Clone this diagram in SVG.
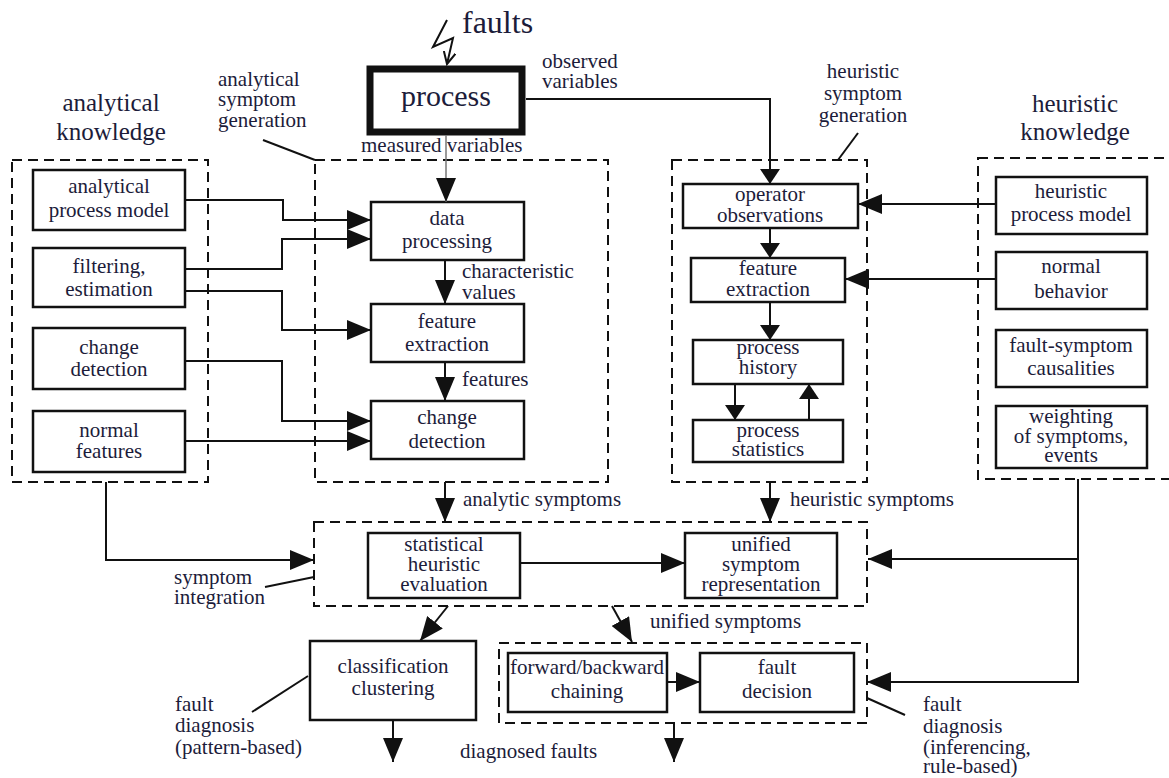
<svg xmlns="http://www.w3.org/2000/svg" width="1169" height="778" viewBox="0 0 1169 778" font-family="'Liberation Serif', 'DejaVu Serif', serif">
<defs>
<style>
text{font-family:'Liberation Serif','Tinos','DejaVu Serif','Times New Roman',serif;font-size:21px;fill:#1c1c3a}
.c{text-anchor:middle}
.t{font-size:25px}
.box{fill:#fff;stroke:#111;stroke-width:2.5}
.dash{fill:none;stroke:#111;stroke-width:2;stroke-dasharray:10 6}
.ln{fill:none;stroke:#111;stroke-width:2}
.ab{marker-end:url(#big)}
.as{marker-end:url(#small)}
</style>
<marker id="big" markerUnits="userSpaceOnUse" markerWidth="24" markerHeight="20" refX="24" refY="10" orient="auto"><path d="M0,0 L24,10 L0,20 z" fill="#111"/></marker>
<marker id="small" markerUnits="userSpaceOnUse" markerWidth="15" markerHeight="20" refX="15" refY="10" orient="auto"><path d="M0,0 L15,10 L0,20 z" fill="#111"/></marker>
<marker id="open" markerUnits="userSpaceOnUse" markerWidth="14" markerHeight="14" refX="12" refY="7" orient="auto"><path d="M0,1 L12,7 L0,13" fill="none" stroke="#111" stroke-width="2"/></marker>
</defs>

<g id="groups">
<rect class="dash" x="12" y="160" width="196" height="322"/>
<rect class="dash" x="315" y="160" width="293" height="322"/>
<rect class="dash" x="672" y="160" width="195" height="322"/>
<rect class="dash" x="978" y="158" width="200" height="321"/>
<rect class="dash" x="314" y="522" width="553" height="84"/>
<rect class="dash" x="499" y="643" width="368" height="80"/>
</g>

<g id="labels">
<text x="462" y="33" style="font-size:32px">faults</text>
<text x="542" y="68">observed</text>
<text x="542" y="88">variables</text>
<text x="361" y="152">measured variables</text>
<text x="218" y="86">analytical</text>
<text x="218" y="106">symptom</text>
<text x="218" y="127">generation</text>
<text class="c t" x="111" y="111">analytical</text>
<text class="c t" x="111" y="140">knowledge</text>
<text class="c" x="863" y="78">heuristic</text>
<text class="c" x="863" y="100">symptom</text>
<text class="c" x="863" y="122">generation</text>
<text class="c t" x="1075" y="112">heuristic</text>
<text class="c t" x="1075" y="140">knowledge</text>
<text x="462" y="278">characteristic</text>
<text x="462" y="299">values</text>
<text x="462" y="386">features</text>
<text x="463" y="506">analytic symptoms</text>
<text x="790" y="506">heuristic symptoms</text>
<text x="650" y="628">unified symptoms</text>
<text x="460" y="758">diagnosed faults</text>
<text x="174" y="584">symptom</text>
<text x="174" y="604">integration</text>
<text x="175" y="711">fault</text>
<text x="175" y="732">diagnosis</text>
<text x="175" y="754">(pattern-based)</text>
<text x="923" y="711">fault</text>
<text x="923" y="733">diagnosis</text>
<text x="923" y="754">(inferencing,</text>
<text x="923" y="773">rule-based)</text>
</g>

<g id="process">
<rect x="370" y="69" width="152" height="63" fill="#fff" stroke="#111" stroke-width="7"/>
<text class="c" x="446" y="106" style="font-size:30px">process</text>
</g>

<g id="analytical-process-model"><rect class="box" x="33" y="170" width="152" height="60"/><text class="c" x="109" y="193">analytical</text><text class="c" x="109" y="217">process model</text></g>
<g id="filtering-estimation"><rect class="box" x="33" y="248" width="152" height="59"/><text class="c" x="109" y="273">filtering,</text><text class="c" x="109" y="296">estimation</text></g>
<g id="change-detection-knowledge"><rect class="box" x="33" y="328" width="152" height="61"/><text class="c" x="109" y="354">change</text><text class="c" x="109" y="376">detection</text></g>
<g id="normal-features"><rect class="box" x="33" y="411" width="152" height="61"/><text class="c" x="109" y="437">normal</text><text class="c" x="109" y="458">features</text></g>

<g id="data-processing"><rect class="box" x="371" y="202" width="153" height="58"/><text class="c" x="447" y="225">data</text><text class="c" x="447" y="248">processing</text></g>
<g id="feature-extraction"><rect class="box" x="371" y="304" width="153" height="58"/><text class="c" x="447" y="328">feature</text><text class="c" x="447" y="351">extraction</text></g>
<g id="change-detection"><rect class="box" x="371" y="401" width="153" height="58"/><text class="c" x="447" y="424">change</text><text class="c" x="447" y="448">detection</text></g>

<g id="operator-observations"><rect class="box" x="683" y="184" width="175" height="44"/><text class="c" x="770" y="201">operator</text><text class="c" x="770" y="222">observations</text></g>
<g id="feature-extraction-h"><rect class="box" x="691" y="258" width="154" height="44"/><text class="c" x="768" y="275">feature</text><text class="c" x="768" y="296">extraction</text></g>
<g id="process-history"><rect class="box" x="693" y="340" width="150" height="44"/><text class="c" x="768" y="354">process</text><text class="c" x="768" y="374">history</text></g>
<g id="process-statistics"><rect class="box" x="693" y="420" width="150" height="42"/><text class="c" x="768" y="437">process</text><text class="c" x="768" y="456">statistics</text></g>

<g id="heuristic-process-model"><rect class="box" x="996" y="177" width="151" height="57"/><text class="c" x="1071" y="198">heuristic</text><text class="c" x="1071" y="221">process model</text></g>
<g id="normal-behavior"><rect class="box" x="996" y="252" width="151" height="57"/><text class="c" x="1071" y="273">normal</text><text class="c" x="1071" y="298">behavior</text></g>
<g id="fault-symptom-causalities"><rect class="box" x="996" y="330" width="151" height="57"/><text class="c" x="1071" y="352">fault-symptom</text><text class="c" x="1071" y="375">causalities</text></g>
<g id="weighting"><rect class="box" x="996" y="406" width="151" height="62"/><text class="c" x="1071" y="423">weighting</text><text class="c" x="1071" y="443">of symptoms,</text><text class="c" x="1071" y="462">events</text></g>

<g id="statistical-heuristic-evaluation"><rect class="box" x="368" y="533" width="152" height="65"/><text class="c" x="444" y="551">statistical</text><text class="c" x="444" y="571">heuristic</text><text class="c" x="444" y="591">evaluation</text></g>
<g id="unified-symptom-representation"><rect class="box" x="685" y="533" width="152" height="65"/><text class="c" x="761" y="551">unified</text><text class="c" x="761" y="571">symptom</text><text class="c" x="761" y="591">representation</text></g>
<g id="classification-clustering"><rect class="box" x="310" y="641" width="166" height="79"/><text class="c" x="393" y="673">classification</text><text class="c" x="393" y="695">clustering</text></g>
<g id="forward-backward-chaining"><rect class="box" x="508" y="653" width="159" height="59"/><text class="c" x="587" y="674">forward/backward</text><text class="c" x="587" y="698">chaining</text></g>
<g id="fault-decision"><rect class="box" x="700" y="653" width="154" height="59"/><text class="c" x="777" y="674">fault</text><text class="c" x="777" y="698">decision</text></g>

<g id="connectors">
<path class="ln" d="M447,20 L433,47 L453,38 L447,64" marker-end="url(#open)"/>
<path class="ln ab" d="M446,135 L446,202" style="stroke:#777;stroke-width:1.5"/>
<path class="ln as" d="M526,99 L770,99 L770,184" />
<path class="ln ab" d="M185,200 L283,200 L283,220 L371,220"/>
<path class="ln ab" d="M185,269 L282,269 L282,239 L371,239"/>
<path class="ln ab" d="M185,291 L282,291 L282,330 L371,330"/>
<path class="ln ab" d="M185,361 L282,361 L282,421 L371,421"/>
<path class="ln ab" d="M185,441 L371,441"/>
<path class="ln ab" d="M445,260 L445,304"/>
<path class="ln ab" d="M445,362 L445,401"/>
<path class="ln as" d="M770,228 L770,258"/>
<path class="ln as" d="M770,302 L770,340"/>
<path class="ln as" d="M735,384 L735,420"/>
<path class="ln as" d="M809,420 L809,384"/>
<path class="ln ab" d="M996,204 L858,204"/>
<path class="ln ab" d="M996,279 L845,279"/>
<path class="ln ab" d="M445,482 L445,522"/>
<path class="ln ab" d="M770,482 L770,522"/>
<path class="ln ab" d="M106,482 L106,560 L314,560"/>
<path class="ln ab" d="M520,563 L685,563"/>
<path class="ln ab" d="M1078,479 L1078,682 L867,682"/>
<path class="ln ab" d="M1078,559 L868,559"/>
<path class="ln ab" d="M448,606 L420,641"/>
<path class="ln ab" d="M612,606 L632,642"/>
<path class="ln ab" d="M667,682 L700,682"/>
<path class="ln ab" d="M393,720 L393,762"/>
<path class="ln ab" d="M674,723 L674,762"/>
<path class="ln" d="M263,140 L315,160"/>
<path class="ln" d="M858,133 L838,160"/>
<path class="ln" d="M265,587 L314,577"/>
<path class="ln" d="M252,712 L308,676"/>
<path class="ln" d="M867,698 L905,715"/>
</g>
</svg>
